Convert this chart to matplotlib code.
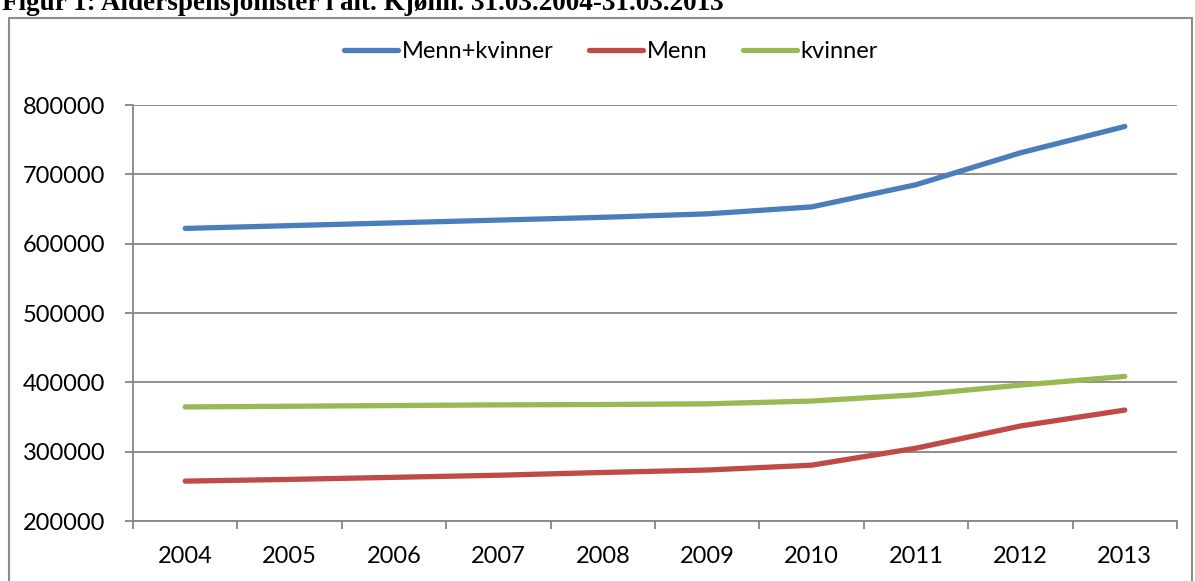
import numpy as np
import matplotlib.pyplot as plt
from matplotlib.patches import Rectangle

years = ["2004", "2005", "2006", "2007", "2008", "2009", "2010", "2011", "2012", "2013"]
totalt = [622000, 626000, 630000, 634000, 638000, 643000, 653000, 685000, 731000, 769000]
menn = [257500, 260000, 263000, 266000, 270000, 273500, 280500, 305000, 337000, 360000]
kvinner = [364500, 365500, 366500, 367500, 368000, 369000, 373000, 382000, 396000, 408500]

plt.rcParams['font.family'] = ['Lato', 'DejaVu Sans']

fig = plt.figure(figsize=(11.95, 5.81), dpi=100)

# outer chart border (bottom runs off the image)
fig.patches.append(Rectangle((9 / 1195, -0.05), (1192 - 9) / 1195, 1 - 18 / 581 + 0.05,
                             transform=fig.transFigure, fill=False,
                             edgecolor='#8c8c8c', linewidth=1.5))

# title is cut off at the top edge, as in the source
fig.text(0.002, 1 - 10 / 581, "Figur 1: Alderspensjonister i alt. Kjønn. 31.03.2004-31.03.2013",
         family='Liberation Serif', fontweight='bold', fontsize=19.5, va='baseline', ha='left')

ax = fig.add_axes([133 / 1195, 1 - 521 / 581, (1177 - 133) / 1195, (521 - 105) / 581])

x = np.arange(len(years))
ax.plot(x, totalt, color='#4A7EBB', lw=3.8, solid_capstyle='round', label='Menn+kvinner')
ax.plot(x, menn, color='#BE4B48', lw=3.8, solid_capstyle='round', label='Menn')
ax.plot(x, kvinner, color='#98B954', lw=3.8, solid_capstyle='round', label='kvinner')

ax.set_xlim(-0.5, len(years) - 0.5)
ax.set_ylim(200000, 800000)
ax.set_yticks(np.arange(200000, 800001, 100000))
ax.set_yticklabels([str(v) for v in range(200000, 800001, 100000)])
ax.set_xticks(np.arange(-0.5, len(years), 1.0))
ax.set_xticklabels([])
ax.set_xticks(x, minor=True)
ax.set_xticklabels(years, minor=True)

ax.grid(axis='y', color='#868686', lw=1.3)
ax.set_axisbelow(True)
for s in ['top', 'right']:
    ax.spines[s].set_visible(False)
for s in ['left', 'bottom']:
    ax.spines[s].set_color('#868686')
    ax.spines[s].set_linewidth(1.3)
ax.tick_params(axis='both', which='major', length=6, width=1.3, color='#868686',
               labelsize=17, direction='out')
ax.tick_params(axis='y', pad=14)
ax.tick_params(axis='x', which='minor', length=0, labelsize=17, pad=18)

ax.legend(loc='center', bbox_to_anchor=(0.458, 1 + (105 - 52) / 416), ncol=3, frameon=False,
          fontsize=17, handlelength=2.3, handletextpad=0.15, columnspacing=1.5)

fig.savefig("out.png", dpi=100)
